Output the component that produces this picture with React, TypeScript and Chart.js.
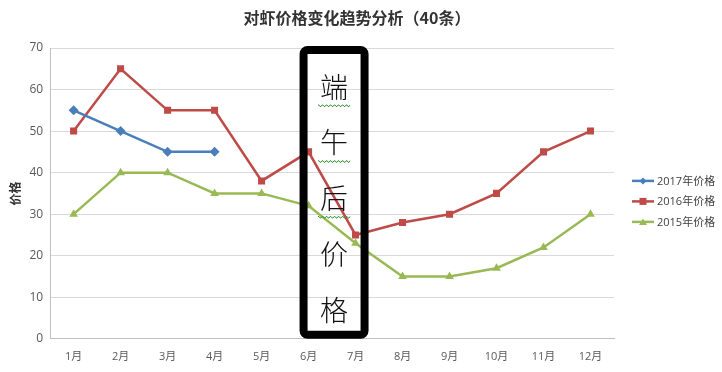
import React, { useEffect, useRef } from "react";
import { Chart, registerables } from "chart.js";

Chart.register(...registerables);

const months = ["1月", "2月", "3月", "4月", "5月", "6月", "7月", "8月", "9月", "10月", "11月", "12月"];
const price2017: (number | null)[] = [55, 50, 45, 45, null, null, null, null, null, null, null, null];
const price2016: number[] = [50, 65, 55, 55, 38, 45, 25, 28, 30, 35, 45, 50];
const price2015: number[] = [30, 40, 40, 35, 35, 32, 23, 15, 15, 17, 22, 30];
const seriesNames = ["2017年价格", "2016年价格", "2015年价格"];
const seriesColors = ["#4A7EBB", "#BE4B48", "#98B954"];
const seriesMarkers = ["rectRot", "rect", "triangle"];
const titleText = "对虾价格变化趋势分析（40条）";
const yTitle = "价格";
const noteChars = ["端", "午", "后", "价", "格"];

const FONT = "'Open Sans', 'Noto Sans CJK SC', sans-serif";
const CJK = "'Noto Sans CJK SC', sans-serif";

const overlayPlugin = {
  id: "overlay",
  afterDraw(chart: any) {
    const ctx = chart.ctx as CanvasRenderingContext2D;
    const xs = chart.scales.x;
    const area = chart.chartArea;
    ctx.save();
    // title centred over the whole picture
    ctx.fillStyle = "#333";
    ctx.font = `bold 16px ${CJK}`;
    ctx.textAlign = "center";
    ctx.textBaseline = "middle";
    ctx.fillText(titleText, chart.width / 2 - 4, 18);
    // note box between 6月 and 7月
    const x6 = xs.getPixelForValue(5);
    const x7 = xs.getPixelForValue(6);
    const left = x6 - 5;
    const right = x7 + 9;
    const top = area.top + 2;
    const bottom = area.bottom - 4;
    ctx.strokeStyle = "#000";
    ctx.lineWidth = 8;
    ctx.beginPath();
    (ctx as any).roundRect(left, top, right - left, bottom - top, 4);
    ctx.stroke();
    const cx = (left + right) / 2;
    ctx.font = `300 28px ${CJK}`;
    const step = (bottom - top - 6) / noteChars.length;
    noteChars.forEach((c, i) => {
      const cy = top + 37 + i * step;
      ctx.fillStyle = "#111";
      ctx.fillText(c, cx, cy);
      if (i < 3) {
        // spell-check wavy underline
        ctx.strokeStyle = "#3a9a3a";
        ctx.lineWidth = 1;
        ctx.beginPath();
        const y0 = cy + 18;
        for (let k = 0; k <= 32; k++) {
          const px = cx - 16 + k;
          const py = y0 + (k % 4 < 2 ? 0 : 1.5);
          if (k === 0) ctx.moveTo(px, py);
          else ctx.lineTo(px, py);
        }
        ctx.stroke();
      }
    });
    // custom legend
    const lx = area.right + 18;
    const midY = (area.top + area.bottom) / 2 + 8;
    seriesNames.forEach((name, i) => {
      const y = midY + (i - 1) * 20.5;
      ctx.strokeStyle = seriesColors[i];
      ctx.lineWidth = 2.5;
      ctx.beginPath();
      ctx.moveTo(lx, y);
      ctx.lineTo(lx + 22, y);
      ctx.stroke();
      ctx.fillStyle = seriesColors[i];
      const mx = lx + 11;
      ctx.beginPath();
      if (i === 0) {
        ctx.moveTo(mx, y - 3.5);
        ctx.lineTo(mx + 3.5, y);
        ctx.lineTo(mx, y + 3.5);
        ctx.lineTo(mx - 3.5, y);
      } else if (i === 1) {
        ctx.rect(mx - 3.5, y - 3.5, 7, 7);
      } else {
        ctx.moveTo(mx, y - 3.5);
        ctx.lineTo(mx + 4, y + 3);
        ctx.lineTo(mx - 4, y + 3);
      }
      ctx.closePath();
      ctx.fill();
      ctx.fillStyle = "#404040";
      ctx.font = `11px ${FONT}`;
      ctx.textAlign = "left";
      ctx.textBaseline = "middle";
      ctx.fillText(name, lx + 25, y + 0.5);
    });
    ctx.restore();
  },
};

export default function App() {
  const ref = useRef<HTMLCanvasElement>(null);
  useEffect(() => {
    if (!ref.current) return;
    const mk = (label: string, data: (number | null)[], i: number) => ({
      label,
      data,
      borderColor: seriesColors[i],
      backgroundColor: seriesColors[i],
      pointStyle: seriesMarkers[i],
      pointRadius: 5,
      pointBorderWidth: 0,
      borderWidth: 2.5,
      tension: 0,
      spanGaps: false,
    });
    const chart = new Chart(ref.current, {
      type: "line",
      data: {
        labels: months,
        datasets: [mk(seriesNames[0], price2017, 0), mk(seriesNames[1], price2016, 1), mk(seriesNames[2], price2015, 2)],
      },
      options: {
        animation: false,
        responsive: false,
        layout: { padding: { left: 8, right: 108, top: 48, bottom: 6 } },
        plugins: {
          legend: { display: false },
          tooltip: { enabled: false },
          title: { display: false },
        },
        scales: {
          x: {
            offset: true,
            grid: { display: false },
            border: { color: "#BFBFBF" },
            ticks: { color: "#595959", font: { family: FONT, size: 11 }, padding: 3, maxRotation: 0 },
          },
          y: {
            min: 0,
            max: 70,
            ticks: { stepSize: 10, color: "#595959", font: { family: FONT, size: 12 }, padding: 7 },
            grid: { color: "#D9D9D9", drawTicks: false },
            border: { color: "#BFBFBF" },
            title: { display: true, text: yTitle, color: "#333", font: { family: CJK, size: 12, weight: "bold" }, padding: 0 },
          },
        },
      },
      plugins: [overlayPlugin],
    });
    return () => chart.destroy();
  }, []);
  return (
    <div style={{ position: "fixed", left: 0, top: 0, width: 722, height: 372, background: "#fff" }}>
      <canvas ref={ref} width={722} height={372} style={{ width: 722, height: 372 }} />
    </div>
  );
}
